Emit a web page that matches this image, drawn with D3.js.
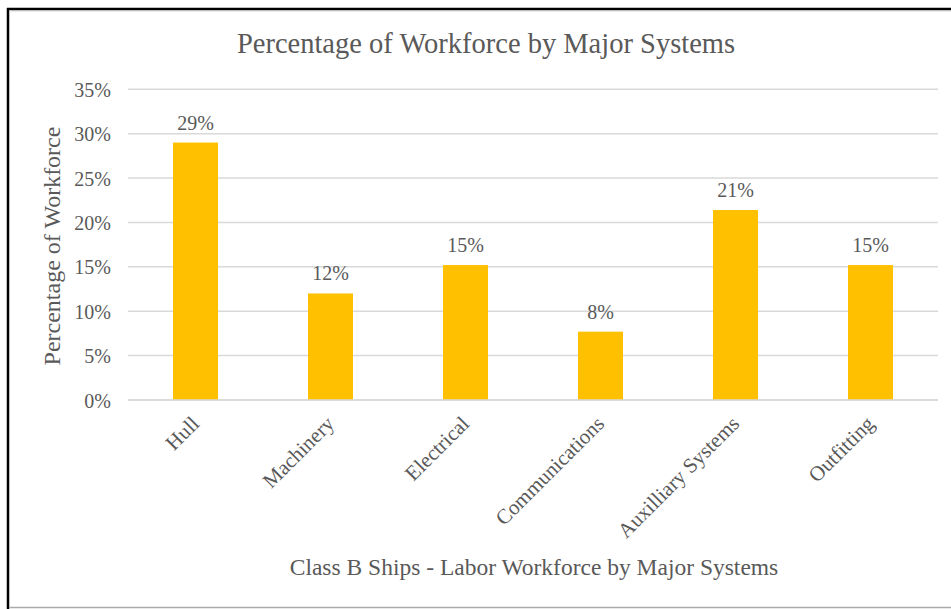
<!DOCTYPE html>
<html>
<head>
<meta charset="utf-8">
<script src="https://cdn.jsdelivr.net/npm/d3@7/dist/d3.min.js"></script>
<style>
  html, body { margin: 0; padding: 0; background: #fff; }
  svg { display: block; }
  text { font-family: "Liberation Serif", "Times New Roman", serif; fill: #595959; }
</style>
</head>
<body>
<script>
const categories = ["Hull", "Machinery", "Electrical", "Communications", "Auxilliary Systems", "Outfitting"];
const values = [0.290, 0.120, 0.152, 0.077, 0.214, 0.152];
const yTicks = [0, 0.05, 0.10, 0.15, 0.20, 0.25, 0.30, 0.35];
const chartTitle = "Percentage of Workforce by Major Systems";
const xTitle = "Class B Ships - Labor Workforce by Major Systems";
const yTitle = "Percentage of Workforce";

(function () {
const W = 951, H = 609;
const FONT = '"Liberation Serif", "Times New Roman", serif';
const svg = d3.select("body").append("svg").attr("width", W).attr("height", H);

// frame
svg.append("rect").attr("x", 0).attr("y", 0).attr("width", W).attr("height", H).attr("fill", "#fff");
svg.append("line").attr("x1", 7).attr("x2", W).attr("y1", 9).attr("y2", 9).attr("stroke", "#000").attr("stroke-width", 2.5);
svg.append("line").attr("x1", 8).attr("x2", 8).attr("y1", 8).attr("y2", H).attr("stroke", "#000").attr("stroke-width", 2.5);
svg.append("line").attr("x1", 9).attr("x2", W).attr("y1", 10.8).attr("y2", 10.8).attr("stroke", "#bbb").attr("stroke-width", 1);
svg.append("line").attr("x1", 9).attr("x2", W).attr("y1", 607.5).attr("y2", 607.5).attr("stroke", "#aaa").attr("stroke-width", 1.5);

const pLeft = 128, pRight = 938, pTop = 89.3, pBottom = 400;
const x = d3.scaleBand().domain(categories).range([pLeft, pRight]).padding(0);
const y = d3.scaleLinear().domain([0, 0.35]).range([pBottom, pTop]);

// gridlines
svg.append("g").selectAll("line").data(yTicks).join("line")
  .attr("x1", pLeft).attr("x2", pRight)
  .attr("y1", d => y(d)).attr("y2", d => y(d))
  .attr("stroke", "#d9d9d9").attr("stroke-width", 1.5);

// y axis labels
const yAxis = d3.axisLeft(y).tickValues(yTicks).tickFormat(d3.format(".0%")).tickSize(0).tickPadding(0);
const gy = svg.append("g").attr("transform", `translate(${111},0)`).call(yAxis);
gy.select(".domain").remove();
gy.selectAll("text").style("font-family", FONT).style("font-size", "20px").attr("fill", "#595959").attr("dy", "0.35em");

// bars
const bw = x.bandwidth() / 3;
svg.append("g").selectAll("rect").data(values).join("rect")
  .attr("x", (d, i) => x(categories[i]) + x.bandwidth() / 2 - bw / 2)
  .attr("width", bw)
  .attr("y", d => y(d))
  .attr("height", d => y(0) - y(d))
  .attr("fill", "#FFC000");

// data labels
svg.append("g").selectAll("text").data(values).join("text")
  .attr("x", (d, i) => x(categories[i]) + x.bandwidth() / 2)
  .attr("y", d => y(d) - 13)
  .attr("text-anchor", "middle")
  .style("font-family", FONT)
  .style("font-size", "20px")
  .text(d => d3.format(".0%")(d));

// x axis baseline
svg.append("line").attr("x1", pLeft).attr("x2", pRight).attr("y1", y(0)).attr("y2", y(0))
  .attr("stroke", "#d9d9d9").attr("stroke-width", 1.5);

// category labels
const xAxis = d3.axisBottom(x).tickSize(0).tickPadding(0);
const gx = svg.append("g").attr("transform", `translate(0,${pBottom})`).call(xAxis);
gx.select(".domain").remove();
gx.selectAll("text")
  .style("font-family", FONT).style("font-size", "21px").attr("fill", "#595959")
  .attr("text-anchor", "end")
  .attr("dy", 0)
  .attr("transform", "translate(5,25) rotate(-45)");

// titles
svg.append("text").attr("x", 486).attr("y", 53).attr("text-anchor", "middle")
  .style("font-family", FONT).style("font-size", "28.5px").text(chartTitle);
svg.append("text").attr("x", 534).attr("y", 575).attr("text-anchor", "middle")
  .style("font-family", FONT).style("font-size", "23.5px").text(xTitle);
svg.append("text").attr("transform", "translate(60,246) rotate(-90)").attr("text-anchor", "middle")
  .style("font-family", FONT).style("font-size", "24px").text(yTitle);
})();
</script>
</body>
</html>
